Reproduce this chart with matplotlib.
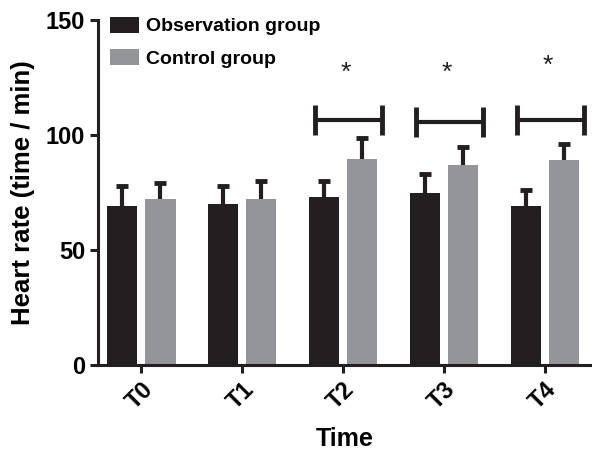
import numpy as np
import matplotlib.pyplot as plt

plt.rcParams['font.family'] = ['Liberation Sans', 'DejaVu Sans']

times = ['T0', 'T1', 'T2', 'T3', 'T4']
obs_mean = [69, 70, 73, 75, 69]
obs_sd = [9, 8, 7, 8, 7]
ctrl_mean = [72, 72, 89.5, 87, 89]
ctrl_sd = [7, 8, 9, 8, 7]
sig_groups = [2, 3, 4]
bracket_y = [106.5, 105.5, 106.5]
star_y = [127, 127, 130]

x = np.arange(len(times))
w = 0.3
black = '#231f20'
grey = '#939598'

fig = plt.figure(figsize=(5.92, 4.53), dpi=100)
ax = fig.add_axes([0.166, 0.194, 0.831, 0.762])

ax.bar(x - 0.19, obs_mean, w, color=black, label='Observation group')
ax.bar(x + 0.19, ctrl_mean, w, color=grey, label='Control group')

# upper error bars only
for off, m, sd in [(-0.19, obs_mean, obs_sd), (0.19, ctrl_mean, ctrl_sd)]:
    xs = x + off
    top = np.array(m) + np.array(sd)
    ax.vlines(xs, m, top, color=black, lw=3)
    ax.hlines(top, xs - 0.06, xs + 0.06, color=black, lw=3.5)

# significance brackets
for i, g in enumerate(sig_groups):
    x0, x1 = g - 0.28, g + 0.39
    yb = bracket_y[i]
    ax.plot([x0, x1], [yb, yb], color=black, lw=3, solid_capstyle='butt')
    ax.plot([x0, x0], [yb - 6.5, yb + 6.5], color=black, lw=3.5, solid_capstyle='butt')
    ax.plot([x1, x1], [yb - 6.5, yb + 6.5], color=black, lw=3.5, solid_capstyle='butt')
    ax.text(g + 0.03, star_y[i], '*', ha='center', va='center', fontsize=19, color=black)

ax.set_xlim(-0.426, 4.45)
ax.set_ylim(0, 150)
ax.set_yticks([0, 50, 100, 150])
ax.set_xticks(x)
ax.set_xticklabels(times, rotation=45, ha='right', rotation_mode='anchor')

for s in ['top', 'right']:
    ax.spines[s].set_visible(False)
for s in ['left', 'bottom']:
    ax.spines[s].set_linewidth(2.2)
    ax.spines[s].set_color(black)
ax.tick_params(width=2.2, length=6, color=black, labelsize=17)
ax.tick_params(axis='x', pad=3)
for lab in ax.get_xticklabels() + ax.get_yticklabels():
    lab.set_fontweight('bold')

ax.set_ylabel('Heart rate (time / min)', fontsize=18.5, fontweight='bold', labelpad=8)
ax.set_xlabel('Time', fontsize=18, fontweight='bold', labelpad=10)

ax.legend(loc='upper left', bbox_to_anchor=(-0.012, 1.06), frameon=False,
          handlelength=1.5, handleheight=0.9, handletextpad=0.35, labelspacing=0.7,
          prop=dict(size=14, weight='bold'))

fig.savefig('out.png', dpi=100)
